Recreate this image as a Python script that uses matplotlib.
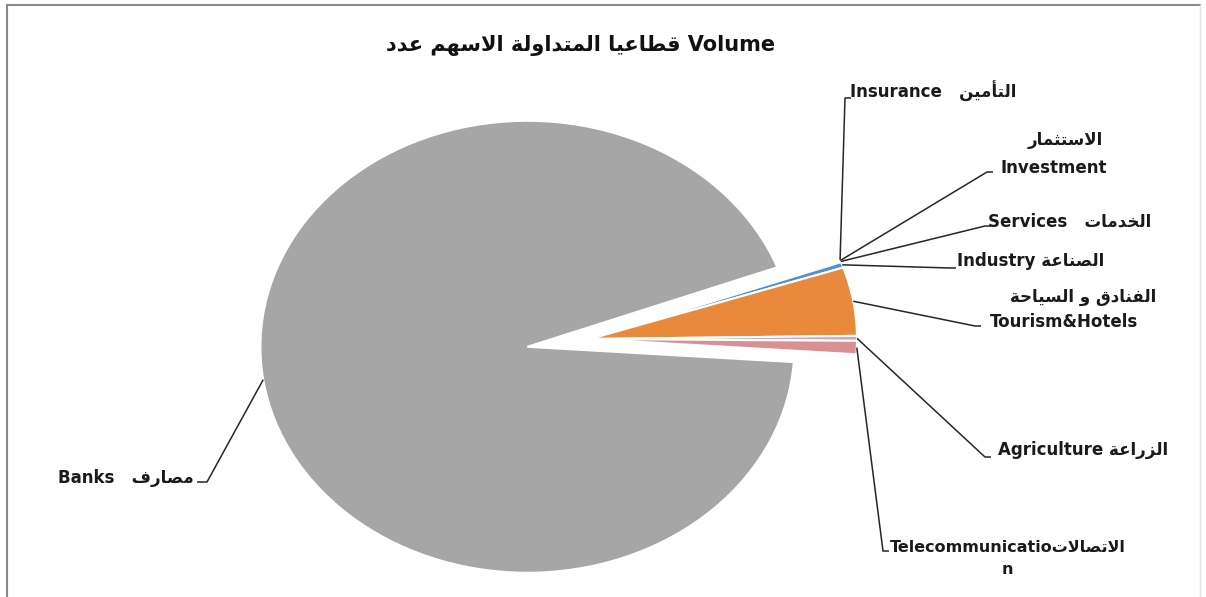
import matplotlib
matplotlib.use("Agg")
import matplotlib.pyplot as plt
import numpy as np
from matplotlib.lines import Line2D

W, H = 1206, 597

# data: share of traded volume by sector (%), clockwise order as drawn
sectors = ["Insurance", "Investment", "Services", "Industry",
           "Tourism&Hotels", "Agriculture", "Telecommunication", "Banks"]
sectors_ar = ["التأمين", "الاستثمار", "الخدمات", "الصناعة",
              "الفنادق و السياحة", "الزراعة", "الاتصالات", "مصارف"]
share = [0.05, 0.05, 0.10, 0.40, 4.90, 0.35, 0.95, 93.20]
colors = ["#5B9BD5", "#5B9BD5", "#5B9BD5", "#4F8FD3",
          "#E8893B", "#CBA6C3", "#DA9090", "#A6A6A6"]
explode = [0, 0, 0, 0, 0, 0, 0, 0.237]
title_ar = "عدد الاسهم المتداولة قطاعيا"

# --- minimal Arabic shaping (matplotlib has no bidi / joining) ---
ISO = {"ا": 0xFE8D, "أ": 0xFE83, "ة": 0xFE93, "د": 0xFEA9, "ر": 0xFEAD,
       "ز": 0xFEAF, "و": 0xFEED, "ت": 0xFE95, "ث": 0xFE99, "ح": 0xFEA1,
       "خ": 0xFEA5, "س": 0xFEB1, "ص": 0xFEB9, "ط": 0xFEC1, "ع": 0xFEC9,
       "ف": 0xFED1, "ق": 0xFED5, "ل": 0xFEDD, "م": 0xFEE1, "ن": 0xFEE5,
       "ه": 0xFEE9, "ي": 0xFEF1}
RIGHT_ONLY = set("اأةدرزو")
LAM_ALEF = {"ا": 0xFEFB, "أ": 0xFEF7}


def shape_word(word):
    units = []
    i = 0
    while i < len(word):
        if word[i] == "ل" and i + 1 < len(word) and word[i + 1] in LAM_ALEF:
            units.append(("LA", LAM_ALEF[word[i + 1]]))
            i += 2
        else:
            units.append((word[i], ISO[word[i]]))
            i += 1
    out = []
    for k, (ch, base) in enumerate(units):
        prev = k > 0 and units[k - 1][0] not in RIGHT_ONLY and units[k - 1][0] != "LA"
        nxt = k + 1 < len(units)
        if ch == "LA" or ch in RIGHT_ONLY:
            out.append(chr(base + 1 if prev else base))
        elif prev and nxt:
            out.append(chr(base + 3))
        elif prev:
            out.append(chr(base + 1))
        elif nxt:
            out.append(chr(base + 2))
        else:
            out.append(chr(base))
    return "".join(out)


def ar(text):
    return " ".join(shape_word(w) for w in text.split())[::-1]


def ar_keep_order(text):
    # each word right-to-left, words kept left-to-right as in the reference title
    return " ".join(shape_word(w)[::-1] for w in text.split())


# pie centre / radii in pixels (reference is stretched horizontally)
CX, CY, RX, RY = 590, 339, 267, 226


def px(x, y):
    return (x - CX) / RX, (CY - y) / RY


fig = plt.figure(figsize=(W / 100, H / 100), dpi=100)
ax = fig.add_axes([0, 0, 1, 1])
wedges, _ = ax.pie(share, colors=colors, explode=explode, startangle=20.6,
                   counterclock=False, radius=1, center=(0, 0), frame=False,
                   wedgeprops=dict(edgecolor="white", linewidth=1.5))
ax.set_aspect("auto")
ax.set_xlim(-CX / RX, (W - CX) / RX)
ax.set_ylim((CY - H) / RY, CY / RY)
ax.axis("off")

FONT = dict(family=["DejaVu Sans"], fontweight="bold", fontsize=12, color="#1a1a1a")

# leader-line elbows (pixels) and label layout
elbows = [(845, 98), (987, 172), (985, 226), (950, 268),
          (975, 326), (985, 457), (883, 551), (207, 482)]
for i, w in enumerate(wedges):
    mid = np.deg2rad((w.theta1 + w.theta2) / 2)
    ax0 = w.center[0] + w.r * np.cos(mid)
    ay0 = w.center[1] + w.r * np.sin(mid)
    ex, ey = px(*elbows[i])
    step = (6 if i < 7 else -10) / RX
    ax.plot([ax0, ex, ex + step], [ay0, ey, ey], color="#262626", lw=1.1,
            solid_capstyle="butt")


def put(x, y, s, ha="left", size=12):
    ax.text(*px(x, y), s, ha=ha, va="center", **{**FONT, "fontsize": size})


put(850, 91, sectors[0] + "   " + ar(sectors_ar[0]))
put(1065, 140, ar(sectors_ar[1]), ha="center")
put(1001, 168, sectors[1])
put(988, 222, sectors[2] + "   " + ar(sectors_ar[2]))
put(957, 261, sectors[3] + " " + ar(sectors_ar[3]))
put(1083, 297, ar(sectors_ar[4]), ha="center")
put(990, 322, sectors[4])
put(998, 450, sectors[5] + " " + ar(sectors_ar[5]))
put(890, 548, sectors[6][:-1] + ar(sectors_ar[6]), size=11.5)
put(1007, 569, sectors[6][-1], ha="center", size=11.5)
put(194, 478, sectors[7] + "   " + ar(sectors_ar[7]), ha="right")

fig.text(581 / W, 1 - 45 / H, ar_keep_order(title_ar) + " Volume",
         ha="center", va="center", family=["DejaVu Sans"], fontweight="bold",
         fontsize=15, color="#111111")

# chart frame (left/top visible, right faint)
fig.add_artist(Line2D([7 / W, 7 / W], [0, 1 - 5 / H], transform=fig.transFigure,
                      color="#8a8a8a", lw=1.5))
fig.add_artist(Line2D([7 / W, 1200 / W], [1 - 5 / H, 1 - 5 / H], transform=fig.transFigure,
                      color="#8a8a8a", lw=1.5))
fig.add_artist(Line2D([1200 / W, 1200 / W], [0, 1 - 5 / H], transform=fig.transFigure,
                      color="#e4e4e4", lw=1.0))

fig.savefig("out.png", dpi=100)
